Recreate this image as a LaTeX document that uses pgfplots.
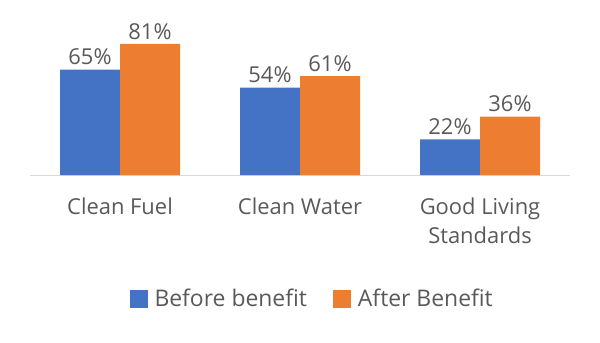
\documentclass[border=0pt]{standalone}
\usepackage{pgfplots}
\pgfplotsset{compat=1.18}
\usepackage{fontspec}
\setmainfont{Open Sans}
\definecolor{cblue}{HTML}{4472C4}
\definecolor{corange}{HTML}{ED7D31}
\definecolor{ctext}{HTML}{595959}
\definecolor{cline}{HTML}{D9D9D9}
\begin{document}
\begin{tikzpicture}
\path[use as bounding box] (-30bp,-168bp) rectangle (570bp,175bp);
\begin{axis}[
  at={(0,0)}, anchor=south west,
  scale only axis,
  width=540bp, height=162bp,
  xmin=-0.5, xmax=2.5, ymin=0, ymax=100,
  ybar=0pt, bar width=60bp,
  axis x line=bottom, axis y line=none,
  x axis line style={cline, line width=1bp, -},
  xtick={0,1,2}, major tick length=0pt,
  xticklabels={Clean Fuel, Clean Water, Good Living\\Standards},
  xticklabel style={align=center, font=\fontsize{22}{29}\selectfont, text=ctext, yshift=-19bp},
  ytick=\empty,
  /pgf/number format/assume math mode=true,
  nodes near coords={\pgfmathprintnumber{\pgfplotspointmeta}\%},
  nodes near coords style={font=\fontsize{22}{26}\selectfont, text=ctext, yshift=1bp},
  legend style={at={(axis description cs:0.5225,-0.765)}, anchor=center, draw=none, fill=none,
    legend columns=2, font=\fontsize{23}{27}\selectfont, text=ctext,
    /tikz/every even column/.append style={column sep=24bp},
    /tikz/every odd column/.append style={column sep=5bp}},
  legend image code/.code={\fill[#1] (0bp,-9bp) rectangle (18bp,9bp);},
  clip=false,
]
\addplot[fill=cblue, draw=none] coordinates {(0,65) (1,54) (2,22)};
\addplot[fill=corange, draw=none] coordinates {(0,81) (1,61) (2,36)};
\legend{Before benefit, After Benefit}
\end{axis}
\end{tikzpicture}
\end{document}
